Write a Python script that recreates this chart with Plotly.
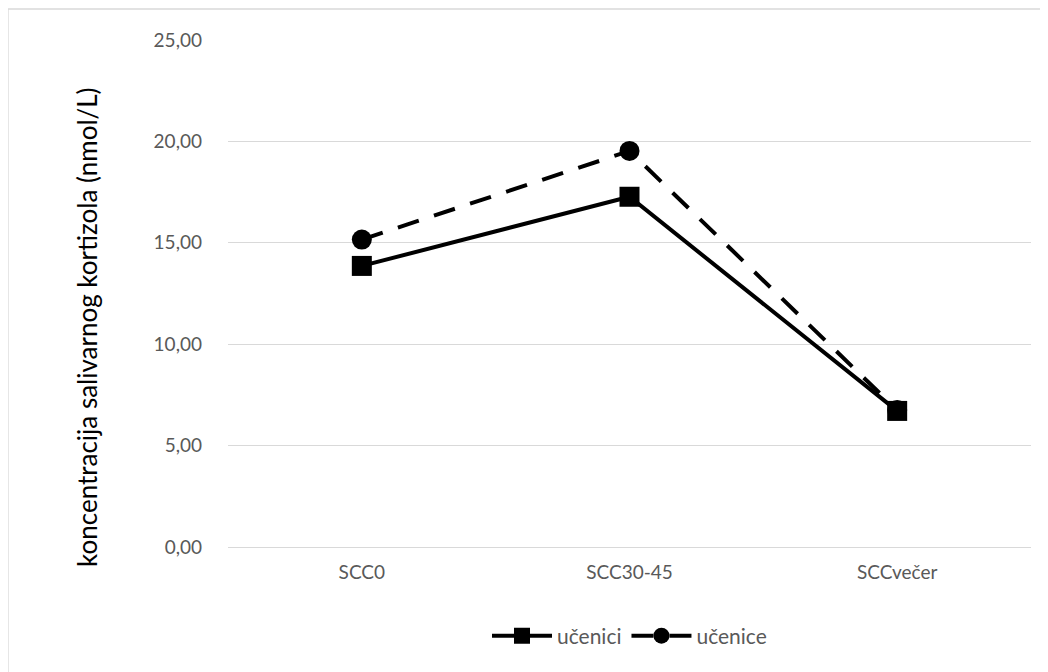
import plotly.graph_objects as go

categories = ["SCC0", "SCC30-45", "SCCvečer"]
ucenici = [13.86, 17.27, 6.71]
ucenice = [15.16, 19.53, 6.75]
y_ticks = [0, 5, 10, 15, 20, 25]
y_title = "koncentracija salivarnog kortizola (nmol/L)"

W, H = 1040, 664
L, T, PW, PH = 220, 32, 803, 507

fig = go.Figure()
fig.add_trace(go.Scatter(
    x=categories, y=ucenici, name="učenici", mode="lines+markers",
    line=dict(color="black", width=4),
    marker=dict(symbol="square", size=20, color="black"),
))
fig.add_trace(go.Scatter(
    x=categories, y=ucenice, name="učenice", mode="lines+markers",
    line=dict(color="black", width=4, dash="22px,16px"),
    marker=dict(symbol="circle", size=20, color="black"),
))

fig.update_layout(
    width=W, height=H,
    margin=dict(l=L, r=W - L - PW, t=T, b=H - T - PH, autoexpand=False),
    paper_bgcolor="white", plot_bgcolor="white",
    separators=",.",
    font=dict(family="Lato, Open Sans, sans-serif", color="#595959", size=19),
    showlegend=True,
    legend=dict(orientation="h", x=0.5, xanchor="center", y=(T + PH - 628) / PH, yanchor="middle",
                font=dict(size=21, color="#595959"), itemwidth=60, tracegroupgap=0),
    xaxis=dict(range=[-0.5, 2.5], showgrid=False, showline=False, zeroline=False, ticks="",
               tickfont=dict(size=19, color="#595959"), ticklabelstandoff=12),
    yaxis=dict(range=[0, 25], tickvals=y_ticks, tickformat=".2f",
               showgrid=True, gridcolor="#d9d9d9", gridwidth=1,
               zeroline=True, zerolinecolor="#d9d9d9", zerolinewidth=1,
               showline=False, ticks="", ticklabelstandoff=25,
               tickfont=dict(size=19, color="#595959")),
    annotations=[dict(text=y_title, textangle=-90, xref="paper", yref="paper",
                      x=(79 - L) / PW, y=(T + PH - 319) / PH, xanchor="center", yanchor="middle",
                      showarrow=False, font=dict(size=26, color="black"))],
    shapes=[dict(type="rect", xref="paper", yref="paper",
                 x0=(0 - L) / PW, x1=(W + 20 - L) / PW,
                 y0=-(H - T - PH + 20) / PH, y1=1 + (T - 1) / PH,
                 line=dict(color="#d9d9d9", width=1.3), fillcolor="rgba(0,0,0,0)", layer="below")],
)
fig.write_html("out.html")
